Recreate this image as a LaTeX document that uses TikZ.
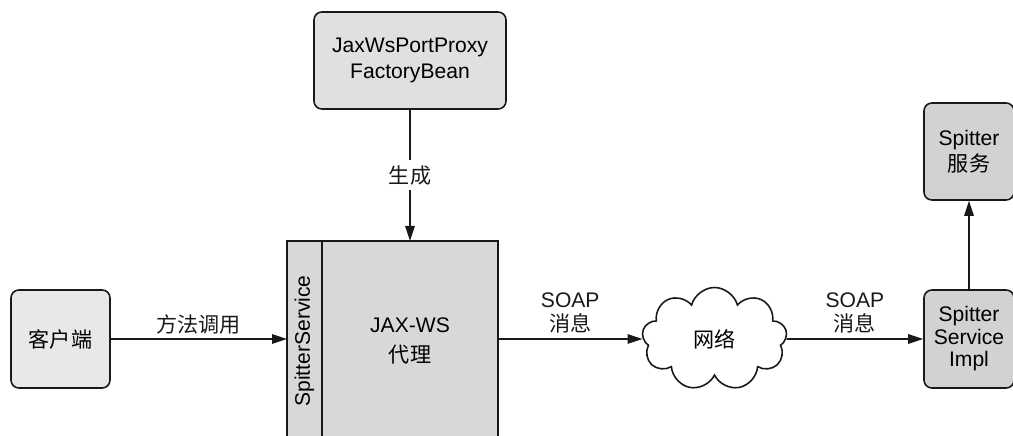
\documentclass[tikz,border=0pt]{standalone}
\usepackage{fontspec}
\setmainfont{Liberation Sans}
\newfontfamily\cjk{Noto Sans CJK SC}
\usepackage{tikz}
\usetikzlibrary{shapes.symbols, arrows.meta, positioning}
\definecolor{mydark}{RGB}{25,25,25}
\definecolor{boxlight}{RGB}{232,232,232}
\definecolor{boxmid}{RGB}{224,224,224}
\definecolor{boxproxy}{RGB}{216,216,216}
\definecolor{boxdark}{RGB}{210,210,210}
\tikzset{
  box/.style={rectangle, draw=mydark, fill=boxlight, align=center,
    rounded corners=4.5pt, line width=0.9pt, inner sep=0pt,
    font=\fontsize{12}{14.7}\selectfont},
  darkbox/.style={box, fill=boxdark, minimum width=1.8cm},
  proxybox/.style={rectangle, draw=mydark, fill=boxproxy, line width=0.9pt,
    minimum height=4.0cm, outer sep=0pt, inner sep=0pt},
  netcloud/.style={cloud, draw=mydark, fill=white, cloud puffs=9, aspect=1.4,
    line width=0.9pt, minimum width=2.9cm, minimum height=2.06cm,
    font=\fontsize{12}{14.7}\selectfont},
  lbl/.style={align=center, inner sep=1pt, font=\fontsize{12}{13.5}\selectfont},
  arrow/.style={-{Triangle[length=0.3cm, width=0.19cm]}, line width=0.9pt, color=mydark}
}

\begin{document}
\begin{tikzpicture}
  \useasboundingbox (0,-1.94) rectangle (20.26,6.78);

  % Client
  \node[box, minimum width=1.98cm, minimum height=1.96cm] (client) at (1.21,0) {\cjk 客户端};

  % Factory bean
  \node[box, fill=boxmid, minimum width=3.84cm, minimum height=1.94cm] (factory) at (8.2,5.57)
    {JaxWsPortProxy\\FactoryBean};

  % JAX-WS proxy
  \node[proxybox, minimum width=0.70cm] (iface) at (6.09,-0.04) {};
  \node[proxybox, minimum width=3.52cm, right=0pt of iface] (proxy) {};
  \node[lbl, rotate=90] (ifacelbl) at (iface) {SpitterService};
  \node[lbl, font=\fontsize{12}{17}\selectfont] (proxylbl) at (proxy) {JAX-WS\\{\cjk 代理}};

  % Network
  \node[netcloud] (net) at (14.29,0) {\cjk 网络};

  % Service side
  \node[darkbox, minimum height=1.96cm, font=\fontsize{12}{12.8}\selectfont] (impl) at (19.38,0)
    {Spitter\\Service\\Impl};
  \node[darkbox, minimum height=1.94cm, font=\fontsize{12}{15}\selectfont] (svc) at (19.38,3.75)
    {Spitter\\{\cjk 服务}};

  \draw[arrow] (client) -- node[lbl, above=1pt] (calllbl) {\cjk 方法调用} (iface.west |- client);
  \draw[arrow] (factory) -- node[lbl, fill=white, inner sep=3pt] (genlbl) {\cjk 生成} (proxy);
  \draw[arrow] (proxy.east |- client) -- node[lbl, above=2pt] (soaplbla) {SOAP\\{\cjk 消息}} (net);
  \draw[arrow] (net) -- node[lbl, above=2pt] (soaplblb) {SOAP\\{\cjk 消息}} (impl);
  \draw[arrow] (impl) -- (svc);
\end{tikzpicture}
\end{document}
